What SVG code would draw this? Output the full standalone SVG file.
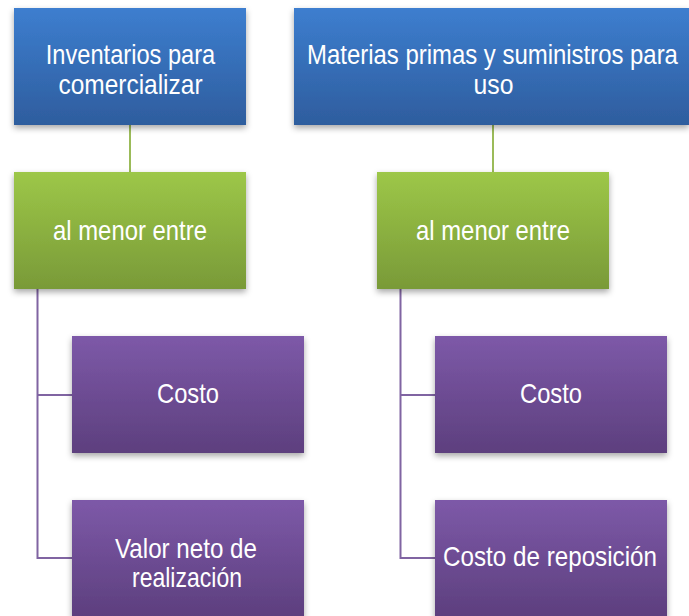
<svg xmlns="http://www.w3.org/2000/svg" width="689" height="616" viewBox="0 0 689 616">
<defs>
<linearGradient id="gBlue" x1="0" y1="0" x2="0" y2="1"><stop offset="0" stop-color="#3D7ECF"/><stop offset="1" stop-color="#2E5D9E"/></linearGradient>
<linearGradient id="gGreen" x1="0" y1="0" x2="0" y2="1"><stop offset="0" stop-color="#9DC748"/><stop offset="1" stop-color="#799A38"/></linearGradient>
<linearGradient id="gPurple" x1="0" y1="0" x2="0" y2="1"><stop offset="0" stop-color="#7D59A8"/><stop offset="1" stop-color="#5D3F7E"/></linearGradient>
<filter id="sh" x="-10%" y="-10%" width="120%" height="130%"><feDropShadow dx="0" dy="3" stdDeviation="3" flood-color="#000" flood-opacity="0.35"/></filter>
</defs>
<style>
.t{font-family:"Liberation Sans",Arial,sans-serif;fill:#fff;text-anchor:middle}
.big{font-size:27.5px}
.n{font-size:28px}
.cg{stroke:#9BBB59;stroke-width:2;fill:none}
.cp{stroke:#8064A2;stroke-width:2;fill:none}
</style>
<rect width="689" height="616" fill="#fff"/>
<g id="connectors">
<line class="cg" x1="130" y1="125" x2="130" y2="172"/>
<line class="cg" x1="493" y1="125" x2="493" y2="172"/>
<path class="cp" d="M37.5 289 V558 H72 M37.5 395 H72"/>
<path class="cp" d="M400.5 289 V558 H435 M400.5 395 H435"/>
</g>
<g id="n1">
<rect x="14" y="8" width="232" height="117" fill="url(#gBlue)" filter="url(#sh)"/>
<text class="t big" transform="translate(130.5,63.5) scale(0.86,1)" x="0" y="0">Inventarios para</text>
<text class="t big" transform="translate(130.5,94) scale(0.89,1)" x="0" y="0">comercializar</text>
</g>
<g id="n2">
<rect x="294" y="8" width="395" height="117" fill="url(#gBlue)" filter="url(#sh)"/>
<text class="t big" transform="translate(492.5,63.5) scale(0.87,1)" x="0" y="0">Materias primas y suministros para</text>
<text class="t big" transform="translate(493.5,94) scale(0.9,1)" x="0" y="0">uso</text>
</g>
<g id="n3">
<rect x="14" y="172" width="232" height="117" fill="url(#gGreen)" filter="url(#sh)"/>
<text class="t n" x="130" y="240" textLength="154" lengthAdjust="spacingAndGlyphs">al menor entre</text>
</g>
<g id="n4">
<rect x="377" y="172" width="232" height="117" fill="url(#gGreen)" filter="url(#sh)"/>
<text class="t n" x="493" y="240" textLength="154" lengthAdjust="spacingAndGlyphs">al menor entre</text>
</g>
<g id="n5">
<rect x="72" y="336" width="232" height="117" fill="url(#gPurple)" filter="url(#sh)"/>
<text class="t n" x="188" y="403" textLength="62" lengthAdjust="spacingAndGlyphs">Costo</text>
</g>
<g id="n6">
<rect x="72" y="500" width="232" height="117" fill="url(#gPurple)" filter="url(#sh)"/>
<text class="t n" x="186" y="558" textLength="142" lengthAdjust="spacingAndGlyphs">Valor neto de</text>
<text class="t n" x="187" y="586.5" textLength="110" lengthAdjust="spacingAndGlyphs">realización</text>
</g>
<g id="n7">
<rect x="435" y="336" width="232" height="117" fill="url(#gPurple)" filter="url(#sh)"/>
<text class="t n" x="551" y="403" textLength="62" lengthAdjust="spacingAndGlyphs">Costo</text>
</g>
<g id="n8">
<rect x="435" y="500" width="232" height="117" fill="url(#gPurple)" filter="url(#sh)"/>
<text class="t n" x="550" y="566" textLength="214" lengthAdjust="spacingAndGlyphs">Costo de reposición</text>
</g>
</svg>
